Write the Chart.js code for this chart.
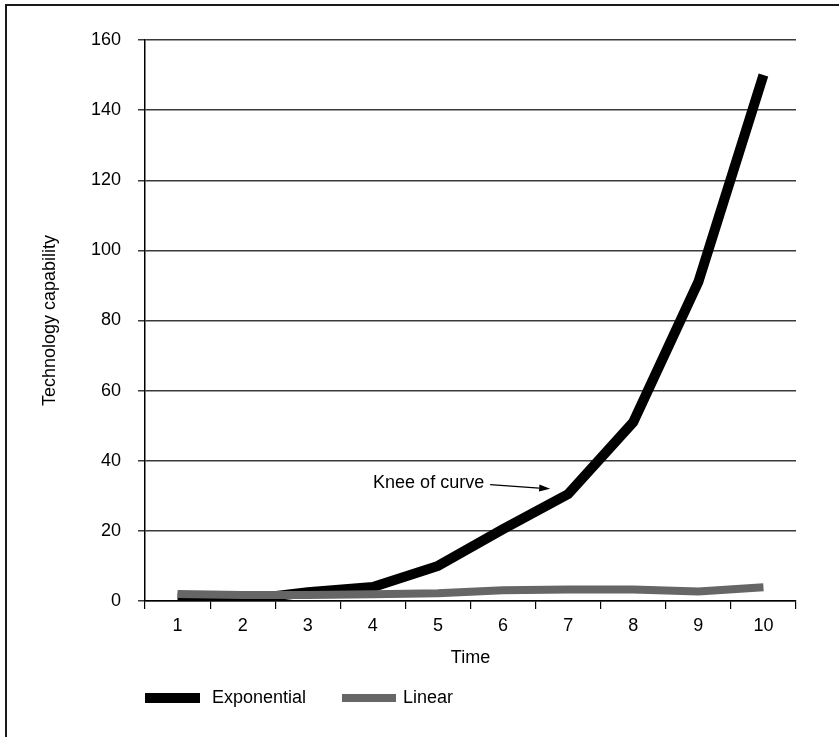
<!DOCTYPE html>
<html><head><meta charset="utf-8">
<script src="https://cdn.jsdelivr.net/npm/chart.js@4"></script>
<style>
html,body{margin:0;padding:0;background:#fff;}
#wrap{position:relative;width:839px;height:737px;overflow:hidden;}
#frame{position:absolute;left:5px;top:4px;width:840px;height:740px;border-left:2px solid #1a1a1a;border-top:2px solid #1a1a1a;box-sizing:border-box;pointer-events:none;}
canvas{position:absolute;left:0;top:0;}
</style></head><body>
<div id="wrap"><canvas id="c" width="839" height="737"></canvas><div id="frame"></div></div>
<script>
const categories = ['1','2','3','4','5','6','7','8','9','10'];
const exponential = [1, 0.3, 2.5, 4, 10, 20.5, 30.5, 51, 91, 150];
const linear = [2, 1.7, 1.7, 1.9, 2.2, 3.1, 3.3, 3.3, 2.7, 3.9];
const yTicks = [0, 20, 40, 60, 80, 100, 120, 140, 160];
const seriesNames = ['Exponential', 'Linear'];
const xTitle = 'Time';
const yTitle = 'Technology capability';
const annotationText = 'Knee of curve';
const annotationIndex = 6;
const annotationValue = 32;

const FONT = '"Liberation Sans", Arial, Helvetica, sans-serif';

const extras = {
  id: 'extras',
  afterDraw(chart) {
    const ctx = chart.ctx;
    const xs = chart.scales.x, ys = chart.scales.y;
    ctx.save();
    // annotation arrow
    const tipX = xs.getPixelForValue(annotationIndex) - 18;
    const tipY = ys.getPixelForValue(annotationValue);
    const tailX = tipX - 60;
    const tailY = ys.getPixelForValue(annotationValue + 1.2);
    ctx.strokeStyle = '#000';
    ctx.fillStyle = '#000';
    ctx.lineWidth = 1.2;
    const ang = Math.atan2(tipY - tailY, tipX - tailX);
    const hl = 11, hw = 3.5;
    const bx = tipX - hl * Math.cos(ang), by = tipY - hl * Math.sin(ang);
    ctx.beginPath(); ctx.moveTo(tailX, tailY); ctx.lineTo(bx, by); ctx.stroke();
    ctx.beginPath();
    ctx.moveTo(tipX, tipY);
    ctx.lineTo(bx + hw * Math.sin(ang), by - hw * Math.cos(ang));
    ctx.lineTo(bx - hw * Math.sin(ang), by + hw * Math.cos(ang));
    ctx.closePath(); ctx.fill();
    ctx.font = '18px ' + FONT;
    ctx.textAlign = 'right';
    ctx.textBaseline = 'middle';
    ctx.fillText(annotationText, tailX - 6, ys.getPixelForValue(annotationValue + 1.7));
    // legend
    const ly = 698;
    const starts = [chart.chartArea.left, chart.chartArea.left + 197];
    const boxWs = [55, 54];
    const gaps = [12, 7];
    chart.data.datasets.forEach((ds, i) => {
      const x0 = starts[i];
      ctx.fillStyle = ds.borderColor;
      ctx.fillRect(x0, ly - ds.borderWidth / 2, boxWs[i], ds.borderWidth);
      ctx.fillStyle = '#000';
      ctx.textAlign = 'left';
      ctx.fillText(ds.label, x0 + boxWs[i] + gaps[i], ly);
    });
    ctx.restore();
  }
};

new Chart(document.getElementById('c'), {
  type: 'line',
  data: {
    labels: categories,
    datasets: [
      { label: seriesNames[0], data: exponential, borderColor: '#000000', backgroundColor: '#000000',
        borderWidth: 10, pointRadius: 0, tension: 0, borderJoinStyle: 'miter', borderCapStyle: 'butt', order: 1 },
      { label: seriesNames[1], data: linear, borderColor: '#666666', backgroundColor: '#666666',
        borderWidth: 8, pointRadius: 0, tension: 0, borderJoinStyle: 'miter', borderCapStyle: 'butt', order: 0 }
    ]
  },
  options: {
    responsive: false,
    animation: false,
    layout: { padding: { left: 0, right: 43, top: 40, bottom: 66 } },
    plugins: { legend: { display: false }, tooltip: { enabled: false } },
    scales: {
      x: {
        offset: true,
        grid: { display: true, offset: true, drawOnChartArea: false, drawTicks: true, tickLength: 8, color: '#000', lineWidth: 1.2 },
        border: { display: true, color: '#000', width: 1.5 },
        ticks: { color: '#000', font: { family: FONT, size: 18 }, padding: 6, maxRotation: 0 },
        title: { display: true, text: xTitle, color: '#000', font: { family: FONT, size: 18 }, padding: { top: 0, bottom: 2 } },
        afterFit(scale) { scale.height = 70; }
      },
      y: {
        min: 0, max: 160,
        afterBuildTicks(scale) { scale.ticks = yTicks.map(v => ({ value: v })); },
        grid: { color: '#3a3a3a', lineWidth: 1.5, tickLength: 7, drawTicks: true },
        border: { display: true, color: '#000', width: 1.5 },
        ticks: { color: '#000', font: { family: FONT, size: 18 }, padding: 17 },
        title: { display: true, text: yTitle, color: '#000', font: { family: FONT, size: 18 }, padding: { top: 39, bottom: 0 } },
        afterFit(scale) { scale.width = 145; }
      }
    }
  },
  plugins: [extras]
});
</script>
</body></html>
